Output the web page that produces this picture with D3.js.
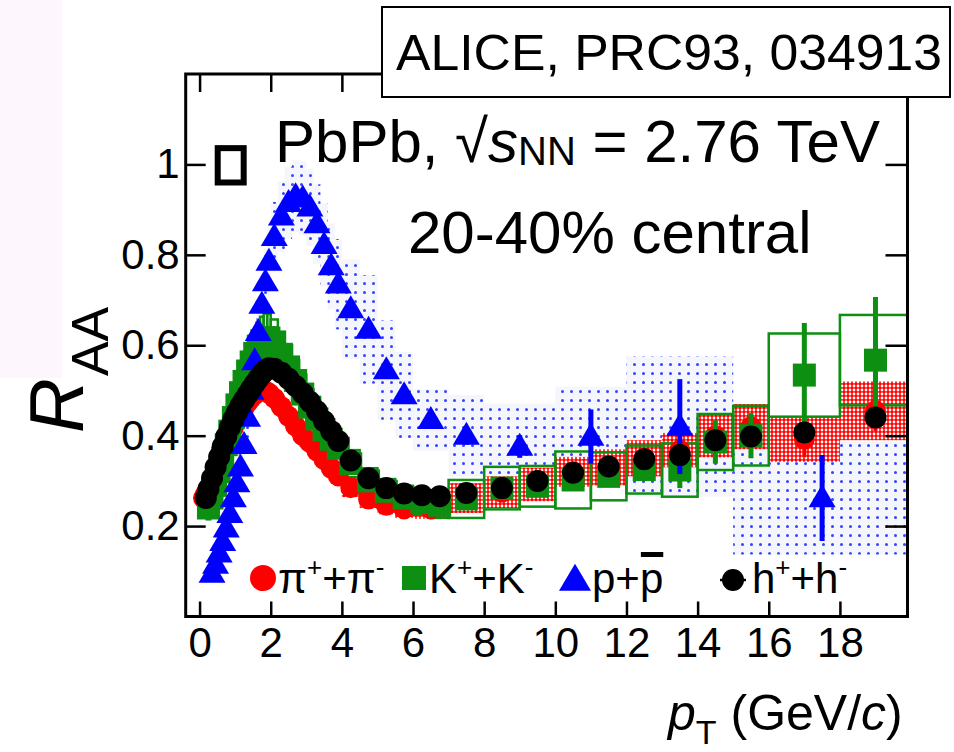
<!DOCTYPE html>
<html>
<head>
<meta charset="utf-8">
<script src="https://cdn.jsdelivr.net/npm/d3@7.9.0/dist/d3.min.js"></script>
<style>
  html, body { margin: 0; padding: 0; background: #fff; }
  svg { display: block; font-family: "Liberation Sans", Arial, Helvetica, sans-serif; }
</style>
</head>
<body>
<svg id="chart" width="954" height="752"></svg>
<script>
// pT bin edges (GeV/c) and R_AA, one list per species
const hEdges = [0.15, 0.2, 0.3, 0.4, 0.5, 0.6, 0.7, 0.8, 0.9, 1.0, 1.1, 1.2, 1.3, 1.4, 1.5, 1.6, 1.7, 1.8, 1.9, 2.0,
  2.2, 2.4, 2.6, 2.8, 3.0, 3.2, 3.4, 3.6, 3.8, 4.0, 4.5, 5.0, 5.5, 6.0, 6.5, 7, 8, 9, 10, 11, 12, 13, 14, 15, 16, 18, 20];
const hRaa = [0.262, 0.282, 0.306, 0.330, 0.353, 0.376, 0.398, 0.418, 0.436, 0.452, 0.466, 0.479, 0.491, 0.503, 0.515, 0.526, 0.536, 0.544, 0.549,
  0.548, 0.539, 0.526, 0.510, 0.494, 0.475, 0.454, 0.432, 0.410, 0.388,
  0.345, 0.306, 0.284, 0.272, 0.268, 0.266,
  0.273, 0.284, 0.300, 0.318, 0.332, 0.348, 0.357, 0.390, 0.398, 0.407, 0.440];

const pionEdges = [0.1, 0.12, 0.2, 0.3, 0.4, 0.5, 0.6, 0.7, 0.8, 0.9, 1.0, 1.1, 1.2, 1.3, 1.4, 1.5, 1.6, 1.7, 1.8, 1.9, 2.0,
  2.2, 2.4, 2.6, 2.8, 3.0, 3.2, 3.4, 3.6, 3.8, 4.0, 4.5, 5.0, 5.5, 6.0, 7, 8, 9, 10, 11, 12, 13, 14, 15, 16, 18, 20];
const pionRaa = [0.262, 0.270,
  0.284, 0.303, 0.323, 0.343, 0.363, 0.383, 0.401, 0.418, 0.434, 0.448, 0.461, 0.473, 0.483, 0.491, 0.497, 0.500, 0.499, 0.494,
  0.483, 0.464, 0.443, 0.421, 0.400, 0.385, 0.366, 0.347, 0.328, 0.311,
  0.285, 0.260, 0.246, 0.238, 0.238,
  0.262, 0.275, 0.292, 0.320, 0.330, 0.350, 0.368, 0.400, 0.420, 0.392, 0.455];
const pionSys = [0.020, 0.020,
  0.020, 0.020, 0.021, 0.021, 0.022, 0.022, 0.023, 0.023, 0.024, 0.024, 0.025, 0.025, 0.025, 0.026, 0.026, 0.026, 0.026, 0.026,
  0.026, 0.025, 0.025, 0.024, 0.024, 0.023, 0.023, 0.022, 0.022, 0.021,
  0.021, 0.020, 0.020, 0.020, 0.022,
  0.033, 0.035, 0.037, 0.033, 0.040, 0.040, 0.038, 0.048, 0.050, 0.050, 0.065];
const pionStat = [0, 0,
  0, 0, 0, 0, 0, 0, 0, 0, 0, 0, 0, 0, 0, 0, 0, 0, 0, 0,
  0, 0, 0, 0, 0, 0, 0, 0, 0, 0,
  0, 0, 0, 0, 0,
  0.010, 0.010, 0.012, 0.012, 0.014, 0.016, 0.018, 0.020, 0.025, 0.040, 0.045];

const kaonEdges = [0.2, 0.3, 0.4, 0.5, 0.6, 0.7, 0.8, 0.9, 1.0, 1.1, 1.2, 1.3, 1.4, 1.5, 1.6, 1.7, 1.8, 1.9, 2.0,
  2.2, 2.4, 2.6, 2.8, 3.0, 3.2, 3.4, 3.6, 3.8, 4.0, 4.5, 5.0, 5.5, 6.0, 6.5, 7, 8, 9, 10, 11, 12, 13, 14, 15, 16, 18, 20];
const kaonRaa = [0.240, 0.262, 0.290, 0.320, 0.350, 0.380, 0.410, 0.440, 0.468, 0.495, 0.520, 0.543, 0.563, 0.582, 0.598, 0.610, 0.617, 0.616,
  0.605, 0.580, 0.552, 0.522, 0.492, 0.463, 0.437, 0.413, 0.392, 0.372,
  0.338, 0.300, 0.277, 0.262, 0.252, 0.246,
  0.260, 0.284, 0.288, 0.302, 0.310, 0.325, 0.324, 0.386, 0.400, 0.534, 0.567];
const kaonSys = [0.025, 0.025, 0.027, 0.029, 0.031, 0.034, 0.036, 0.039, 0.041, 0.043, 0.045, 0.047, 0.049, 0.050, 0.052, 0.053, 0.053, 0.053,
  0.052, 0.050, 0.048, 0.045, 0.043, 0.040, 0.038, 0.036, 0.034, 0.033,
  0.030, 0.028, 0.027, 0.027, 0.027, 0.028,
  0.042, 0.047, 0.045, 0.063, 0.053, 0.053, 0.059, 0.062, 0.066, 0.092, 0.100];
const kaonStat = [0, 0, 0, 0, 0, 0, 0, 0, 0, 0, 0, 0, 0, 0, 0, 0, 0, 0,
  0, 0, 0, 0, 0, 0, 0, 0, 0, 0,
  0, 0, 0, 0, 0, 0,
  0.010, 0.012, 0.012, 0.015, 0.018, 0.020, 0.040, 0.048, 0.050, 0.115, 0.140];

const protonEdges = [0.3, 0.4, 0.5, 0.6, 0.7, 0.8, 0.9, 1.0, 1.1, 1.2, 1.3, 1.4, 1.5, 1.6, 1.7, 1.8, 1.9, 2.0,
  2.2, 2.4, 2.6, 2.8, 3.0, 3.2, 3.4, 3.6, 3.8, 4.0, 4.5, 5.0, 5.5, 6.0, 7, 8, 10, 12, 15, 20];
const protonRaa = [0.095, 0.115, 0.140, 0.165, 0.195, 0.227, 0.262, 0.295, 0.330, 0.380, 0.440, 0.500, 0.565, 0.630, 0.690, 0.740, 0.785,
  0.840, 0.885, 0.915, 0.930, 0.925, 0.905, 0.868, 0.822, 0.775, 0.735,
  0.680, 0.635, 0.545, 0.490,
  0.435, 0.400, 0.376, 0.398, 0.420, 0.262];
const protonSys = [0.012, 0.014, 0.017, 0.020, 0.023, 0.027, 0.031, 0.035, 0.040, 0.045, 0.050, 0.055, 0.060, 0.065, 0.070, 0.072, 0.075,
  0.077, 0.078, 0.080, 0.080, 0.082, 0.085, 0.088, 0.092, 0.095, 0.100,
  0.110, 0.120, 0.110, 0.095,
  0.068, 0.090, 0.095, 0.110, 0.155, 0.125];
const protonStat = [0, 0, 0, 0, 0, 0, 0, 0, 0, 0, 0, 0, 0, 0, 0, 0, 0,
  0, 0, 0, 0, 0, 0, 0, 0, 0, 0,
  0, 0, 0, 0,
  0.010, 0.020, 0.025, 0.060, 0.105, 0.095];

// normalisation uncertainty box drawn at R_AA = 1
const normBoxPt = [0.51, 1.24];
const normBoxRaa = [0.96, 1.036];

const xTicks = [0, 2, 4, 6, 8, 10, 12, 14, 16, 18];
const yTicks = [0.2, 0.4, 0.6, 0.8, 1.0];

const red = '#ff0000', green = '#0d8f12', blue = '#0000ff';

const toBins = (edges, raa, sys, stat) => raa.map((v, i) => ({
  lo: edges[i], hi: edges[i + 1], pt: (edges[i] + edges[i + 1]) / 2,
  raa: v, sys: sys ? sys[i] : 0, stat: stat ? stat[i] : 0
}));

const hBins = toBins(hEdges, hRaa);
const pionBins = toBins(pionEdges, pionRaa, pionSys, pionStat);
const kaonBins = toBins(kaonEdges, kaonRaa, kaonSys, kaonStat);
const protonBins = toBins(protonEdges, protonRaa, protonSys, protonStat);

const frame = { left: 185.7, right: 907.5, top: 74, bottom: 616.5 };
const x = d3.scaleLinear().domain([-0.39, 19.9]).range([frame.left, frame.right]);
const y = d3.scaleLinear().domain([0, 1.2]).range([frame.bottom, frame.top]);

const svg = d3.select('#chart');

// faint tint left over from the scanned figure
svg.append('rect').attr('x', 0).attr('y', 0).attr('width', 62).attr('height', 378).attr('fill', '#fdf6fd');

const defs = svg.append('defs');
defs.append('clipPath').attr('id', 'plot-clip')
  .append('rect')
  .attr('x', frame.left).attr('y', frame.top)
  .attr('width', frame.right - frame.left).attr('height', frame.bottom - frame.top);

const dots = defs.append('pattern').attr('id', 'blue-dots')
  .attr('patternUnits', 'userSpaceOnUse').attr('width', 9).attr('height', 9);
dots.append('rect').attr('width', 9).attr('height', 9).attr('fill', '#f5f5fc');
dots.append('circle').attr('cx', 4.5).attr('cy', 4.5).attr('r', 1.5).attr('fill', '#3344ff');

const mesh = defs.append('pattern').attr('id', 'red-mesh')
  .attr('patternUnits', 'userSpaceOnUse').attr('width', 4).attr('height', 4);
mesh.append('rect').attr('width', 4).attr('height', 4).attr('fill', red);
mesh.append('circle').attr('cx', 2).attr('cy', 2).attr('r', 1.4).attr('fill', '#fff');

const plot = svg.append('g').attr('clip-path', 'url(#plot-clip)');

const drawBoxes = (bins, cls, attrs) => {
  const sel = plot.append('g').attr('class', cls)
    .selectAll('rect').data(bins.filter(d => d.sys > 0)).join('rect')
    .attr('x', d => x(d.lo))
    .attr('width', d => x(d.hi) - x(d.lo))
    .attr('y', d => y(d.raa + d.sys))
    .attr('height', d => y(d.raa - d.sys) - y(d.raa + d.sys));
  Object.entries(attrs).forEach(([k, v]) => sel.attr(k, v));
};

drawBoxes(protonBins, 'proton-sys', { fill: 'url(#blue-dots)' });
drawBoxes(pionBins, 'pion-sys', { fill: 'url(#red-mesh)' });
drawBoxes(kaonBins, 'kaon-sys', { fill: 'none', stroke: green, 'stroke-width': 2.5 });

const drawStat = (bins, color, w) => {
  plot.append('g').selectAll('line').data(bins.filter(d => d.stat > 0)).join('line')
    .attr('x1', d => x(d.pt)).attr('x2', d => x(d.pt))
    .attr('y1', d => y(d.raa - d.stat)).attr('y2', d => y(d.raa + d.stat))
    .attr('stroke', color).attr('stroke-width', w);
};

const triangle = (w, h) => `M0,${-h * 0.6}L${w / 2},${h * 0.4}L${-w / 2},${h * 0.4}Z`;

// pions
drawStat(pionBins, red, 4);
plot.append('g').selectAll('circle').data(pionBins).join('circle')
  .attr('cx', d => x(d.pt)).attr('cy', d => y(d.raa)).attr('r', 10.5).attr('fill', red);

// kaons
drawStat(kaonBins, green, 5);
plot.append('g').selectAll('rect').data(kaonBins).join('rect')
  .attr('x', d => x(d.pt) - 11.5).attr('y', d => y(d.raa) - 11.5)
  .attr('width', 23).attr('height', 23).attr('fill', green);

// protons
drawStat(protonBins, blue, 5);
plot.append('g').selectAll('path').data(protonBins).join('path')
  .attr('transform', d => `translate(${x(d.pt)},${y(d.raa)})`)
  .attr('d', triangle(27, 23)).attr('fill', blue);

// charged hadrons
plot.append('g').selectAll('circle').data(hBins).join('circle')
  .attr('cx', d => x(d.pt)).attr('cy', d => y(d.raa)).attr('r', 11).attr('fill', '#000');

// axes: ticks point inwards on all four sides
const fmtY = d => (d === 1 ? '1' : d3.format('.1f')(d));
const styleAxis = (g) => {
  g.select('.domain').remove();
  g.selectAll('.tick line').attr('stroke', '#000').attr('stroke-width', 2.5);
  g.selectAll('.tick text').attr('fill', '#000').attr('font-size', 42)
    .attr('font-family', '"Liberation Sans", Arial, Helvetica, sans-serif');
};

svg.append('g').attr('transform', `translate(0,${frame.bottom})`)
  .call(d3.axisBottom(x).tickValues(xTicks).tickSizeInner(-15).tickSizeOuter(0).tickPadding(11))
  .call(styleAxis);
svg.append('g').attr('transform', `translate(0,${frame.top})`)
  .call(d3.axisTop(x).tickValues(xTicks).tickSizeInner(-18).tickSizeOuter(0).tickFormat(''))
  .call(styleAxis);
svg.append('g').attr('transform', `translate(${frame.left},0)`)
  .call(d3.axisLeft(y).tickValues(yTicks).tickSizeInner(-20).tickSizeOuter(0).tickPadding(6).tickFormat(fmtY))
  .call(styleAxis);
svg.append('g').attr('transform', `translate(${frame.right},0)`)
  .call(d3.axisRight(y).tickValues(yTicks).tickSizeInner(-22).tickSizeOuter(0).tickFormat(''))
  .call(styleAxis);

svg.append('rect')
  .attr('x', frame.left).attr('y', frame.top)
  .attr('width', frame.right - frame.left).attr('height', frame.bottom - frame.top)
  .attr('fill', 'none').attr('stroke', '#000').attr('stroke-width', 3);

// normalisation box
svg.append('rect')
  .attr('x', x(normBoxPt[0])).attr('y', y(normBoxRaa[1]))
  .attr('width', x(normBoxPt[1]) - x(normBoxPt[0]))
  .attr('height', y(normBoxRaa[0]) - y(normBoxRaa[1]))
  .attr('fill', 'none').attr('stroke', '#000').attr('stroke-width', 6);

// axis titles
const yTitle = svg.append('text').attr('transform', 'translate(83,433) rotate(-90)').attr('fill', '#000');
yTitle.append('tspan').attr('font-size', 76).attr('font-style', 'italic').text('R');
yTitle.append('tspan').attr('font-size', 52).attr('dy', 25).attr('dx', 2).text('AA');

const xTitle = svg.append('text').attr('x', 668).attr('y', 730).attr('fill', '#000');
xTitle.append('tspan').attr('font-size', 50).attr('font-style', 'italic').text('p');
xTitle.append('tspan').attr('font-size', 34).attr('dy', 14).text('T');
xTitle.append('tspan').attr('font-size', 50).attr('dy', -14).text(' (GeV/');
xTitle.append('tspan').attr('font-size', 50).attr('font-style', 'italic').text('c');
xTitle.append('tspan').attr('font-size', 50).text(')');

// system and centrality labels
const sys = svg.append('text').attr('x', 275).attr('y', 162).attr('font-size', 60).attr('fill', '#000');
sys.append('tspan').text('PbPb, \u221A');
sys.append('tspan').attr('font-style', 'italic').text('s');
sys.append('tspan').attr('font-size', 40).attr('dy', 3).text('NN');
sys.append('tspan').attr('dy', -3).text(' = 2.76 TeV');

svg.append('text').attr('x', 408).attr('y', 253).attr('font-size', 60).attr('fill', '#000')
  .text('20-40% central');

// legend
const legendY = 578;
const legend = svg.append('g');
const supText = (xPos, base, sup1, sup2) => {
  const t = legend.append('text').attr('x', xPos).attr('y', legendY + 15).attr('font-size', 42).attr('fill', '#000');
  t.append('tspan').text(base);
  t.append('tspan').attr('font-size', 26).attr('dy', -17).text(sup1);
  t.append('tspan').attr('dy', 17).text('+' + base);
  t.append('tspan').attr('font-size', 26).attr('dy', -17).text(sup2);
  return t;
};

legend.append('circle').attr('cx', 263).attr('cy', legendY).attr('r', 13).attr('fill', red);
supText(278, '\u03C0', '+', '-');

legend.append('rect').attr('x', 402).attr('y', legendY - 12).attr('width', 24).attr('height', 24).attr('fill', green);
supText(429, 'K', '+', '-');

legend.append('path').attr('transform', `translate(575,${legendY + 2})`).attr('d', triangle(32, 27)).attr('fill', blue);
const pText = legend.append('text').attr('x', 592).attr('y', legendY + 15).attr('font-size', 42).attr('fill', '#000').text('p+p');
const pBar = pText.node().getExtentOfChar(2);
legend.append('rect').attr('x', pBar.x + 1).attr('y', legendY - 26).attr('width', pBar.width - 1).attr('height', 5).attr('fill', '#000');

legend.append('line').attr('x1', 720).attr('x2', 746).attr('y1', legendY + 2).attr('y2', legendY + 2)
  .attr('stroke', '#000').attr('stroke-width', 2.5);
legend.append('circle').attr('cx', 733).attr('cy', legendY + 2).attr('r', 11).attr('fill', '#000');
supText(752, 'h', '+', '-');

// reference label box, sits over the top frame
svg.append('rect').attr('x', 382).attr('y', 7).attr('width', 568).attr('height', 90)
  .attr('fill', '#fff').attr('stroke', '#000').attr('stroke-width', 2);
svg.append('text').attr('x', 396).attr('y', 70).attr('font-size', 50).attr('fill', '#000')
  .attr('textLength', 546).attr('lengthAdjust', 'spacingAndGlyphs')
  .text('ALICE, PRC93, 034913');
</script>
</body>
</html>
